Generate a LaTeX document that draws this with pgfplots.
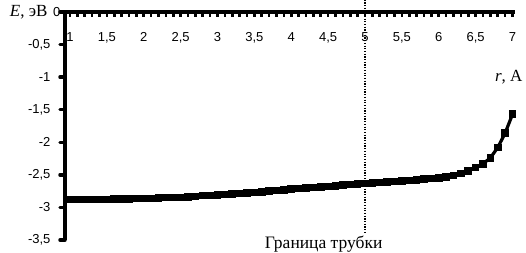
\documentclass[border=0pt]{standalone}
\usepackage{fontspec}
\setmainfont{Liberation Serif}
\newfontfamily\arial{Liberation Sans}
\usepackage{pgfplots}
\pgfplotsset{compat=1.18}
\usepackage{pgfplotstable}
\pgfplotstableread{
x y
1.0 -2.88
1.1 -2.88
1.2 -2.88
1.3 -2.88
1.4 -2.88
1.5 -2.88
1.6 -2.875
1.7 -2.87
1.8 -2.87
1.9 -2.865
2.0 -2.86
2.1 -2.86
2.2 -2.855
2.3 -2.85
2.4 -2.85
2.5 -2.845
2.6 -2.84
2.7 -2.83
2.8 -2.82
2.9 -2.815
3.0 -2.81
3.1 -2.80
3.2 -2.79
3.3 -2.785
3.4 -2.775
3.5 -2.77
3.6 -2.76
3.7 -2.75
3.8 -2.74
3.9 -2.73
4.0 -2.72
4.1 -2.71
4.2 -2.70
4.3 -2.695
4.4 -2.685
4.5 -2.68
4.6 -2.67
4.7 -2.66
4.8 -2.65
4.9 -2.64
5.0 -2.63
5.1 -2.625
5.2 -2.615
5.3 -2.61
5.4 -2.60
5.5 -2.59
5.6 -2.585
5.7 -2.575
5.8 -2.565
5.9 -2.555
6.0 -2.545
6.1 -2.53
6.2 -2.51
6.3 -2.48
6.4 -2.44
6.5 -2.39
6.6 -2.33
6.7 -2.24
6.8 -2.08
6.9 -1.86
7.0 -1.57
}\curve
\begin{document}
\begin{tikzpicture}
\begin{axis}[
  name=ax,
  scale only axis,
  width=450pt, height=228pt,
  xmin=0.932, xmax=7.034,
  ymin=-3.5, ymax=0,
  axis x line*=top,
  axis y line*=left,
  axis line style={line width=3.8pt},
  clip=false,
  xtick={1,1.5,...,7},
  minor x tick num=4,
  ytick={-3.5,-3,...,-0.5},
  extra y ticks={0},
  extra y tick style={yticklabel style={xshift=10pt}},
  tick align=inside,
  major tick length=5pt,
  minor tick length=5pt,
  x tick style={line width=2.6pt, black},
  minor x tick style={line width=2.6pt, black},
  y tick style={line width=3.5pt, black, xshift=-5pt, line cap=round},
  /pgf/number format/use comma,
  /pgf/number format/assume math mode=true,
  tick label style={font=\arial\fontsize{13}{15}\selectfont},
  xticklabel style={anchor=north, yshift=-17pt},
  yticklabel style={xshift=-11pt},
  every axis x label/.style={at={(axis description cs:1,0.714)}, anchor=east, xshift=11pt},
  every axis y label/.style={at={(axis description cs:0,1)}, anchor=east, xshift=-14pt},
  label style={font=\fontsize{17}{19}\selectfont},
  xlabel={\textit{r}, A},
  ylabel={\textit{E}, эВ},
]
\addplot[black, line width=3.2pt, mark=square*, mark size=2.2pt] table[x=x,y=y] {\curve};
\draw[dash pattern=on 1.2pt off 1.5pt, line width=1.2pt] (axis cs:5,0.19) -- (axis cs:5,-3.39);
\node[font=\fontsize{17.5}{19}\selectfont] at (axis cs:4.44,-3.56) {Граница трубки};
\end{axis}
\pgfresetboundingbox
\path[use as bounding box] ([xshift=-65pt,yshift=-13pt]ax.south west) rectangle ([xshift=11pt,yshift=12pt]ax.north east);
\end{tikzpicture}
\end{document}
